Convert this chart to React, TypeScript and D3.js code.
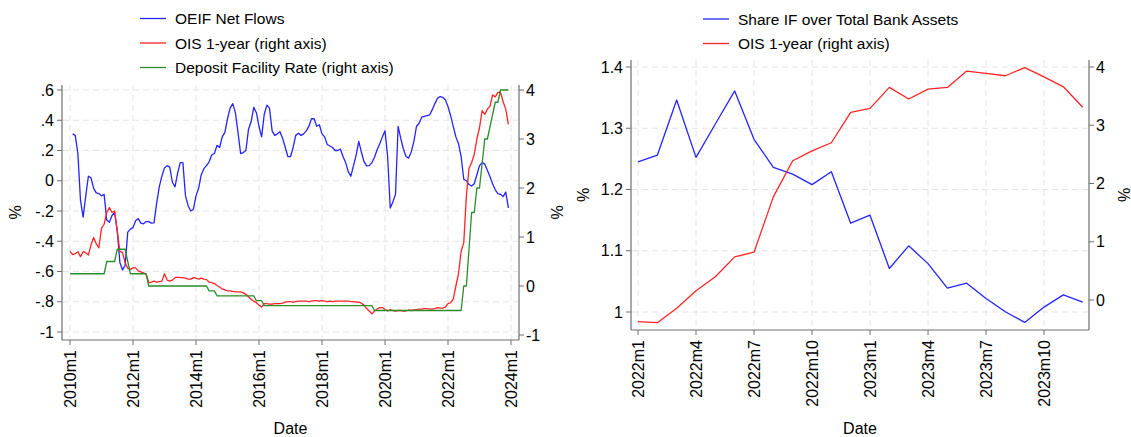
import React from "react";
import * as d3 from "d3";

// ---------- Left panel data (monthly, 2010m1 .. 2023m12) ----------
const leftStartYear = 2010;
const leftTickLabels = ["2010m1", "2012m1", "2014m1", "2016m1", "2018m1", "2020m1", "2022m1", "2024m1"];
const leftYTicks = [-1, -0.8, -0.6, -0.4, -0.2, 0, 0.2, 0.4, 0.6];
const leftYTickText = ["-1", "-.8", "-.6", "-.4", "-.2", "0", ".2", ".4", ".6"];
const leftRTicks = [-1, 0, 1, 2, 3, 4];

const oeifNetFlows: (number | null)[] = [
  null, 0.31, 0.30, 0.18, -0.13, -0.24, -0.10, 0.03, 0.02, -0.05, -0.08, -0.085,
  -0.10, -0.09, -0.26, -0.275, -0.23, -0.21, -0.33, -0.54, -0.59, -0.56, -0.34, -0.32,
  -0.31, -0.265, -0.25, -0.28, -0.285, -0.27, -0.27, -0.28, -0.278, -0.15, -0.04, 0.03,
  0.085, 0.10, 0.09, -0.01, -0.04, 0.05, 0.12, 0.12, -0.10, -0.165, -0.20, -0.19,
  -0.10, -0.05, 0.04, 0.08, 0.10, 0.125, 0.17, 0.18, 0.234, 0.22, 0.29, 0.32,
  0.41, 0.48, 0.51, 0.45, 0.32, 0.18, 0.186, 0.20, 0.34, 0.39, 0.485, 0.45,
  0.36, 0.29, 0.44, 0.50, 0.48, 0.33, 0.30, 0.31, 0.324, 0.28, 0.22, 0.16,
  0.16, 0.22, 0.30, 0.314, 0.30, 0.31, 0.33, 0.36, 0.41, 0.41, 0.36, 0.37,
  0.31, 0.29, 0.24, 0.23, 0.22, 0.20, 0.20, 0.21, 0.16, 0.12, 0.06, 0.03,
  0.10, 0.17, 0.26, 0.19, 0.126, 0.098, 0.10, 0.12, 0.155, 0.205, 0.245, 0.29,
  0.33, 0.16, -0.18, -0.14, -0.09, 0.36, 0.28, 0.21, 0.16, 0.15, 0.19, 0.26,
  0.36, 0.38, 0.42, 0.425, 0.43, 0.435, 0.47, 0.51, 0.545, 0.556, 0.551, 0.535,
  0.49, 0.43, 0.36, 0.29, 0.245, 0.16, 0.01, 0.0, -0.025, -0.035, -0.02, 0.04,
  0.10, 0.12, 0.11, 0.07, 0.027, -0.02, -0.06, -0.085, -0.09, -0.105, -0.075, -0.18,
];

const ois1yLeft: number[] = [
  0.71, 0.64, 0.66, 0.70, 0.60, 0.70, 0.68, 0.63, 0.84, 0.99, 0.86, 0.78,
  1.18, 1.26, 1.50, 1.60, 1.50, 1.53, 1.12, 0.71, 0.68, 0.48, 0.36, 0.34,
  0.37, 0.37, 0.31, 0.29, 0.27, 0.24, 0.07, 0.08, 0.10, 0.08, 0.09, 0.10,
  0.25, 0.12, 0.10, 0.12, 0.17, 0.18, 0.17, 0.17, 0.16, 0.14, 0.14, 0.17,
  0.16, 0.14, 0.16, 0.14, 0.13, 0.08, 0.07, 0.05, 0.01, -0.02, -0.06, -0.08,
  -0.10, -0.10, -0.11, -0.12, -0.12, -0.12, -0.14, -0.17, -0.22, -0.27, -0.31, -0.34,
  -0.39, -0.43, -0.36, -0.36, -0.37, -0.37, -0.36, -0.36, -0.36, -0.35, -0.33, -0.32,
  -0.32, -0.33, -0.32, -0.31, -0.31, -0.31, -0.31, -0.32, -0.31, -0.30, -0.30, -0.31,
  -0.30, -0.31, -0.32, -0.31, -0.32, -0.31, -0.31, -0.31, -0.31, -0.31, -0.31, -0.32,
  -0.32, -0.33, -0.33, -0.35, -0.39, -0.46, -0.51, -0.57, -0.51, -0.47, -0.44, -0.44,
  -0.48, -0.51, -0.48, -0.50, -0.51, -0.50, -0.50, -0.51, -0.51, -0.49, -0.50, -0.49,
  -0.48, -0.47, -0.47, -0.46, -0.46, -0.47, -0.47, -0.46, -0.44, -0.45, -0.45, -0.43,
  -0.36, -0.34, -0.27, 0.0, 0.25, 0.71, 0.88, 1.84, 2.40, 2.52, 2.69, 3.0,
  3.23, 3.58, 3.50, 3.61, 3.67, 3.90, 3.86, 3.95, 3.95, 3.76, 3.61, 3.30,
];

const depositFacilityRate: number[] = [
  0.25, 0.25, 0.25, 0.25, 0.25, 0.25, 0.25, 0.25, 0.25, 0.25, 0.25, 0.25,
  0.25, 0.25, 0.5, 0.5, 0.5, 0.5, 0.75, 0.75, 0.75, 0.75, 0.5, 0.25,
  0.25, 0.25, 0.25, 0.25, 0.25, 0.25, 0, 0, 0, 0, 0, 0,
  0, 0, 0, 0, 0, 0, 0, 0, 0, 0, 0, 0,
  0, 0, 0, 0, 0, -0.1, -0.1, -0.1, -0.2, -0.2, -0.2, -0.2,
  -0.2, -0.2, -0.2, -0.2, -0.2, -0.2, -0.2, -0.2, -0.2, -0.2, -0.2, -0.3,
  -0.3, -0.3, -0.4, -0.4, -0.4, -0.4, -0.4, -0.4, -0.4, -0.4, -0.4, -0.4,
  -0.4, -0.4, -0.4, -0.4, -0.4, -0.4, -0.4, -0.4, -0.4, -0.4, -0.4, -0.4,
  -0.4, -0.4, -0.4, -0.4, -0.4, -0.4, -0.4, -0.4, -0.4, -0.4, -0.4, -0.4,
  -0.4, -0.4, -0.4, -0.4, -0.4, -0.4, -0.4, -0.4, -0.5, -0.5, -0.5, -0.5,
  -0.5, -0.5, -0.5, -0.5, -0.5, -0.5, -0.5, -0.5, -0.5, -0.5, -0.5, -0.5,
  -0.5, -0.5, -0.5, -0.5, -0.5, -0.5, -0.5, -0.5, -0.5, -0.5, -0.5, -0.5,
  -0.5, -0.5, -0.5, -0.5, -0.5, -0.5, 0, 0, 0.75, 1.5, 1.5, 2.0,
  2.0, 2.5, 3.0, 3.0, 3.25, 3.5, 3.75, 3.75, 4, 4, 4, 4,
];

// ---------- Right panel data (monthly, 2022m1 .. 2023m12) ----------
const rightTickLabels = ["2022m1", "2022m4", "2022m7", "2022m10", "2023m1", "2023m4", "2023m7", "2023m10"];
const rightYTicks = [1, 1.1, 1.2, 1.3, 1.4];
const rightYTickText = ["1", "1.1", "1.2", "1.3", "1.4"];
const rightRTicks = [0, 1, 2, 3, 4];

const shareIF: number[] = [
  1.245, 1.256, 1.346, 1.2525, 1.307, 1.361, 1.282, 1.236, 1.225, 1.208, 1.229, 1.145,
  1.158, 1.071, 1.108, 1.079, 1.039, 1.047, 1.022, 1.0005, 0.983, 1.008, 1.028, 1.016,
];
const ois1yRight: number[] = [
  -0.37, -0.39, -0.14, 0.16, 0.40, 0.74, 0.82, 1.77, 2.39, 2.56, 2.70, 3.22,
  3.29, 3.65, 3.45, 3.62, 3.65, 3.93, 3.89, 3.85, 3.99, 3.83, 3.66, 3.31,
];

const FONT = "'Liberation Sans', Arial, Helvetica, sans-serif";
const BLUE = "#2424ff";
const RED = "#ff2424";
const GREEN = "#2a8c2a";
const AXIS = "#6e6e6e";
const GRID = "#e4e4e4";

function labelToIndex(label: string, startYear: number) {
  const [y, m] = label.split("m").map(Number);
  return (y - startYear) * 12 + (m - 1);
}

type Series = { values: (number | null)[]; color: string; axis: "L" | "R" };

function Panel(props: {
  x0: number; x1: number; top: number; bottom: number;
  xDomain: [number, number]; xRange: [number, number];
  yLDomain: [number, number]; yLRange: [number, number];
  yRDomain: [number, number]; yRRange: [number, number];
  xTicks: string[]; startYear: number;
  yLTicks: number[]; yLText: string[]; yRTicks: number[];
  series: Series[];
  legend: { label: string; color: string }[];
  legendX: number; legendY: number;
  leftTitleX: number; rightTitleX: number;
}) {
  const p = props;
  const x = d3.scaleLinear().domain(p.xDomain).range(p.xRange);
  const yL = d3.scaleLinear().domain(p.yLDomain).range(p.yLRange);
  const yR = d3.scaleLinear().domain(p.yRDomain).range(p.yRRange);
  const midY = (p.top + p.bottom) / 2;
  const midX = (p.x0 + p.x1) / 2;

  return (
    <g fontFamily={FONT}>
      {/* grid */}
      {p.yLTicks.map((t) => (
        <line key={"gy" + t} x1={p.x0 + 1} x2={p.x1 - 1} y1={yL(t)} y2={yL(t)}
          stroke={GRID} strokeDasharray="6 4" strokeWidth={1} />
      ))}
      {p.xTicks.map((lab) => {
        const xv = x(labelToIndex(lab, p.startYear));
        return <line key={"gx" + lab} x1={xv} x2={xv} y1={p.top} y2={p.bottom - 1}
          stroke={GRID} strokeDasharray="6 4" strokeWidth={1} />;
      })}
      {/* series */}
      {p.series.map((s, i) => {
        const ys = s.axis === "L" ? yL : yR;
        const gen = d3.line<number | null>()
          .defined((d) => d !== null)
          .x((_, j) => x(j))
          .y((d) => ys(d as number));
        return <path key={"s" + i} d={gen(s.values) || ""} fill="none" stroke={s.color}
          strokeWidth={1.3} strokeLinejoin="round" />;
      })}
      {/* axes */}
      <line x1={p.x0} x2={p.x0} y1={p.top} y2={p.bottom} stroke={AXIS} strokeWidth={1.2} />
      <line x1={p.x1} x2={p.x1} y1={p.top} y2={p.bottom} stroke={AXIS} strokeWidth={1.2} />
      <line x1={p.x0} x2={p.x1} y1={p.bottom} y2={p.bottom} stroke={AXIS} strokeWidth={1.2} />
      {p.yLTicks.map((t, i) => (
        <g key={"yl" + t}>
          <line x1={p.x0 - 5} x2={p.x0} y1={yL(t)} y2={yL(t)} stroke={AXIS} />
          <text x={p.x0 - 8} y={yL(t)} textAnchor="end" dominantBaseline="central" fontSize={16}>
            {p.yLText[i]}
          </text>
        </g>
      ))}
      {p.yRTicks.map((t) => (
        <g key={"yr" + t}>
          <line x1={p.x1} x2={p.x1 + 5} y1={yR(t)} y2={yR(t)} stroke={AXIS} />
          <text x={p.x1 + 7} y={yR(t)} textAnchor="start" dominantBaseline="central" fontSize={16}>
            {String(t)}
          </text>
        </g>
      ))}
      {p.xTicks.map((lab) => {
        const xv = x(labelToIndex(lab, p.startYear));
        return (
          <g key={"xt" + lab}>
            <line x1={xv} x2={xv} y1={p.bottom} y2={p.bottom + 5} stroke={AXIS} />
            <text transform={`translate(${xv},${p.bottom + 10}) rotate(-90)`} textAnchor="end"
              dominantBaseline="central" fontSize={16}>{lab}</text>
          </g>
        );
      })}
      {/* titles */}
      <text x={midX} y={428} textAnchor="middle" dominantBaseline="central" fontSize={16}>Date</text>
      <text transform={`translate(${p.leftTitleX},${midY}) rotate(-90)`} textAnchor="middle"
        dominantBaseline="central" fontSize={16}>%</text>
      <text transform={`translate(${p.rightTitleX},${midY}) rotate(-90)`} textAnchor="middle"
        dominantBaseline="central" fontSize={16}>%</text>
      {/* legend */}
      {p.legend.map((l, i) => {
        const ly = p.legendY + i * 24.5;
        return (
          <g key={"lg" + i}>
            <line x1={p.legendX} x2={p.legendX + 26} y1={ly} y2={ly} stroke={l.color} strokeWidth={1.3} />
            <text x={p.legendX + 35} y={ly} dominantBaseline="central" fontSize={15.5}>{l.label}</text>
          </g>
        );
      })}
    </g>
  );
}

export default function App() {
  return (
    <svg width={1131} height={437} style={{ display: "block", position: "absolute", left: 0, top: 0, background: "#fff" }}>
      <rect x={0} y={0} width={1131} height={437} fill="#fff" />
      <Panel
        x0={62} x1={519} top={85} bottom={340}
        xDomain={[0, 168]} xRange={[70, 511]}
        yLDomain={[-1, 0.6]} yLRange={[332, 90]}
        yRDomain={[-1, 4]} yRRange={[335, 90]}
        xTicks={leftTickLabels} startYear={leftStartYear}
        yLTicks={leftYTicks} yLText={leftYTickText} yRTicks={leftRTicks}
        series={[
          { values: oeifNetFlows, color: BLUE, axis: "L" },
          { values: ois1yLeft, color: RED, axis: "R" },
          { values: depositFacilityRate, color: GREEN, axis: "R" },
        ]}
        legend={[
          { label: "OEIF Net Flows", color: BLUE },
          { label: "OIS 1-year (right axis)", color: RED },
          { label: "Deposit Facility Rate (right axis)", color: GREEN },
        ]}
        legendX={140} legendY={18.5}
        leftTitleX={15} rightTitleX={557}
      />
      <Panel
        x0={631} x1={1089} top={60} bottom={330}
        xDomain={[0, 23]} xRange={[638, 1082.7]}
        yLDomain={[1, 1.4]} yLRange={[312, 67]}
        yRDomain={[0, 4]} yRRange={[300, 67]}
        xTicks={rightTickLabels} startYear={2022}
        yLTicks={rightYTicks} yLText={rightYTickText} yRTicks={rightRTicks}
        series={[
          { values: shareIF, color: BLUE, axis: "L" },
          { values: ois1yRight, color: RED, axis: "R" },
        ]}
        legend={[
          { label: "Share IF over Total Bank Assets", color: BLUE },
          { label: "OIS 1-year (right axis)", color: RED },
        ]}
        legendX={703} legendY={19}
        leftTitleX={583} rightTitleX={1124}
      />
    </svg>
  );
}
